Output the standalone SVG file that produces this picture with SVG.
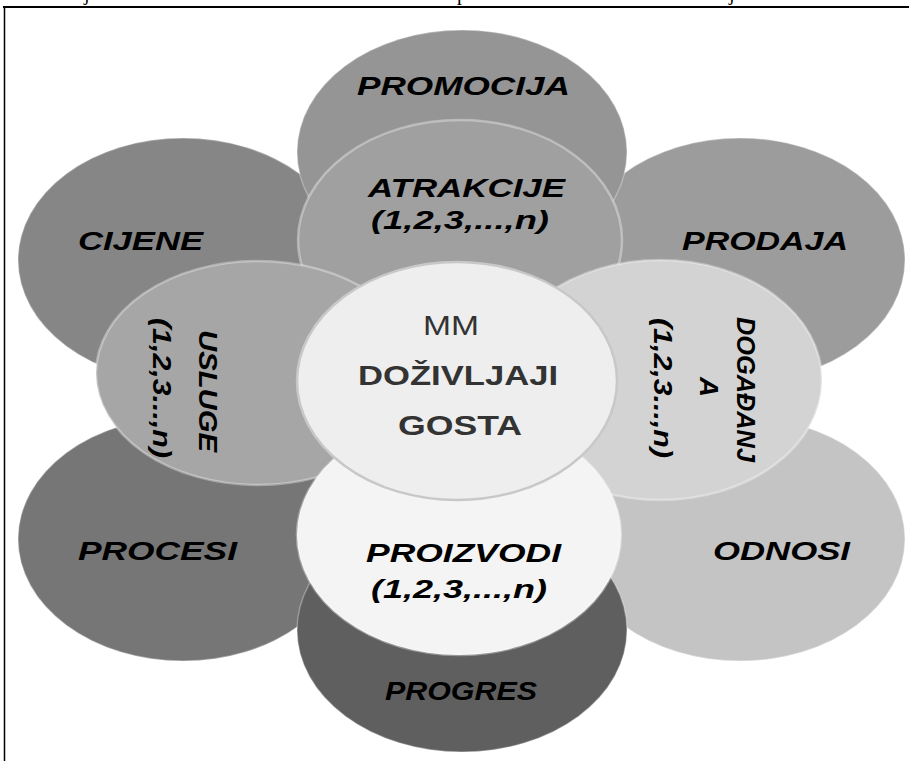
<svg xmlns="http://www.w3.org/2000/svg" width="909" height="761" viewBox="0 0 909 761">
<style>
.o{stroke:#ffffff;stroke-opacity:0.3;stroke-width:1.5}
.i{stroke:#ffffff;stroke-opacity:0.35;stroke-width:2.5}
.t{font-family:"Liberation Sans",Arial,sans-serif;font-weight:bold;font-style:italic;font-size:25px;fill:#000}
.c{font-family:"Liberation Sans",Arial,sans-serif;font-size:28px;fill:#333;text-anchor:middle}
.cap{font-family:"Liberation Serif","Times New Roman",serif;font-size:20px;fill:#000}
</style>
<rect width="909" height="761" fill="#fff"/>
<g id="caption">
<text class="cap" x="84" y="0">j</text>
<text class="cap" x="457" y="0">p</text>
<text class="cap" x="729" y="0">j</text>
</g>
<g id="frame">
<line x1="3" y1="7" x2="909" y2="7" stroke="#000" stroke-width="2.2"/>
<line x1="4.5" y1="7" x2="4.5" y2="761" stroke="#000" stroke-width="1.5"/>
</g>
<g id="connectors"></g>
<g id="cijene"><ellipse class="o" cx="183" cy="260" rx="165" ry="122" fill="#868686"/><text class="t" x="78" y="250" textLength="125" lengthAdjust="spacingAndGlyphs">CIJENE</text></g>
<g id="prodaja"><ellipse class="o" cx="740" cy="260" rx="165" ry="122" fill="#9c9c9c"/><text class="t" x="682" y="250" textLength="166" lengthAdjust="spacingAndGlyphs">PRODAJA</text></g>
<g id="procesi"><ellipse class="o" cx="183" cy="539" rx="165" ry="122" fill="#767676"/><text class="t" x="78" y="560" textLength="159" lengthAdjust="spacingAndGlyphs">PROCESI</text></g>
<g id="odnosi"><ellipse class="o" cx="740" cy="539" rx="165" ry="122" fill="#c4c4c4"/><text class="t" x="713" y="560" textLength="137" lengthAdjust="spacingAndGlyphs">ODNOSI</text></g>
<g id="promocija"><ellipse class="o" cx="462" cy="152" rx="165" ry="122" fill="#959595"/><text class="t" x="357" y="95" textLength="213" lengthAdjust="spacingAndGlyphs">PROMOCIJA</text></g>
<g id="progres"><ellipse class="o" cx="462" cy="630" rx="165" ry="122" fill="#5f5f5f"/><text class="t" x="385" y="700" textLength="152" lengthAdjust="spacingAndGlyphs">PROGRES</text></g>
<g id="atrakcije"><ellipse class="i" cx="460" cy="240" rx="162" ry="120" fill="#a0a0a0"/><text class="t" x="368" y="197" textLength="197" lengthAdjust="spacingAndGlyphs">ATRAKCIJE</text><text class="t" x="371" y="229" textLength="178" lengthAdjust="spacingAndGlyphs">(1,2,3,...,n)</text></g>
<g id="usluge"><ellipse class="i" cx="258" cy="373" rx="162" ry="112" fill="#a6a6a6"/>
<text class="t" font-size="33" transform="translate(199,330) rotate(90)" textLength="122" lengthAdjust="spacingAndGlyphs">USLUGE</text>
<text class="t" font-size="33" transform="translate(153,318) rotate(90)" textLength="140" lengthAdjust="spacingAndGlyphs">(1,2,3...,n)</text></g>
<g id="dogadanja"><ellipse class="i" cx="660" cy="380" rx="162" ry="120" fill="#d3d3d3"/>
<text class="t" font-size="33" transform="translate(737,317) rotate(90)" textLength="145" lengthAdjust="spacingAndGlyphs">DOGAĐANJ</text>
<text class="t" font-size="33" transform="translate(700,377) rotate(90)" textLength="20" lengthAdjust="spacingAndGlyphs">A</text>
<text class="t" font-size="33" transform="translate(654,318) rotate(90)" textLength="140" lengthAdjust="spacingAndGlyphs">(1,2,3...,n)</text></g>
<g id="proizvodi"><ellipse class="i" cx="459" cy="535" rx="162" ry="120" fill="#f4f4f4"/><text class="t" x="366" y="562" textLength="195" lengthAdjust="spacingAndGlyphs">PROIZVODI</text><text class="t" x="371" y="598" textLength="176" lengthAdjust="spacingAndGlyphs">(1,2,3,...,n)</text></g>
<g id="center"><ellipse cx="457" cy="381" rx="160" ry="119" fill="#eeeeee" stroke="#c8c8c8" stroke-width="2.5"/>
<text class="c" x="451" y="335" textLength="56" lengthAdjust="spacingAndGlyphs">MM</text>
<text class="c" x="458" y="385" font-weight="bold" textLength="200" lengthAdjust="spacingAndGlyphs">DOŽIVLJAJI</text>
<text class="c" x="460" y="435" font-weight="bold" textLength="124" lengthAdjust="spacingAndGlyphs">GOSTA</text></g>
</svg>
